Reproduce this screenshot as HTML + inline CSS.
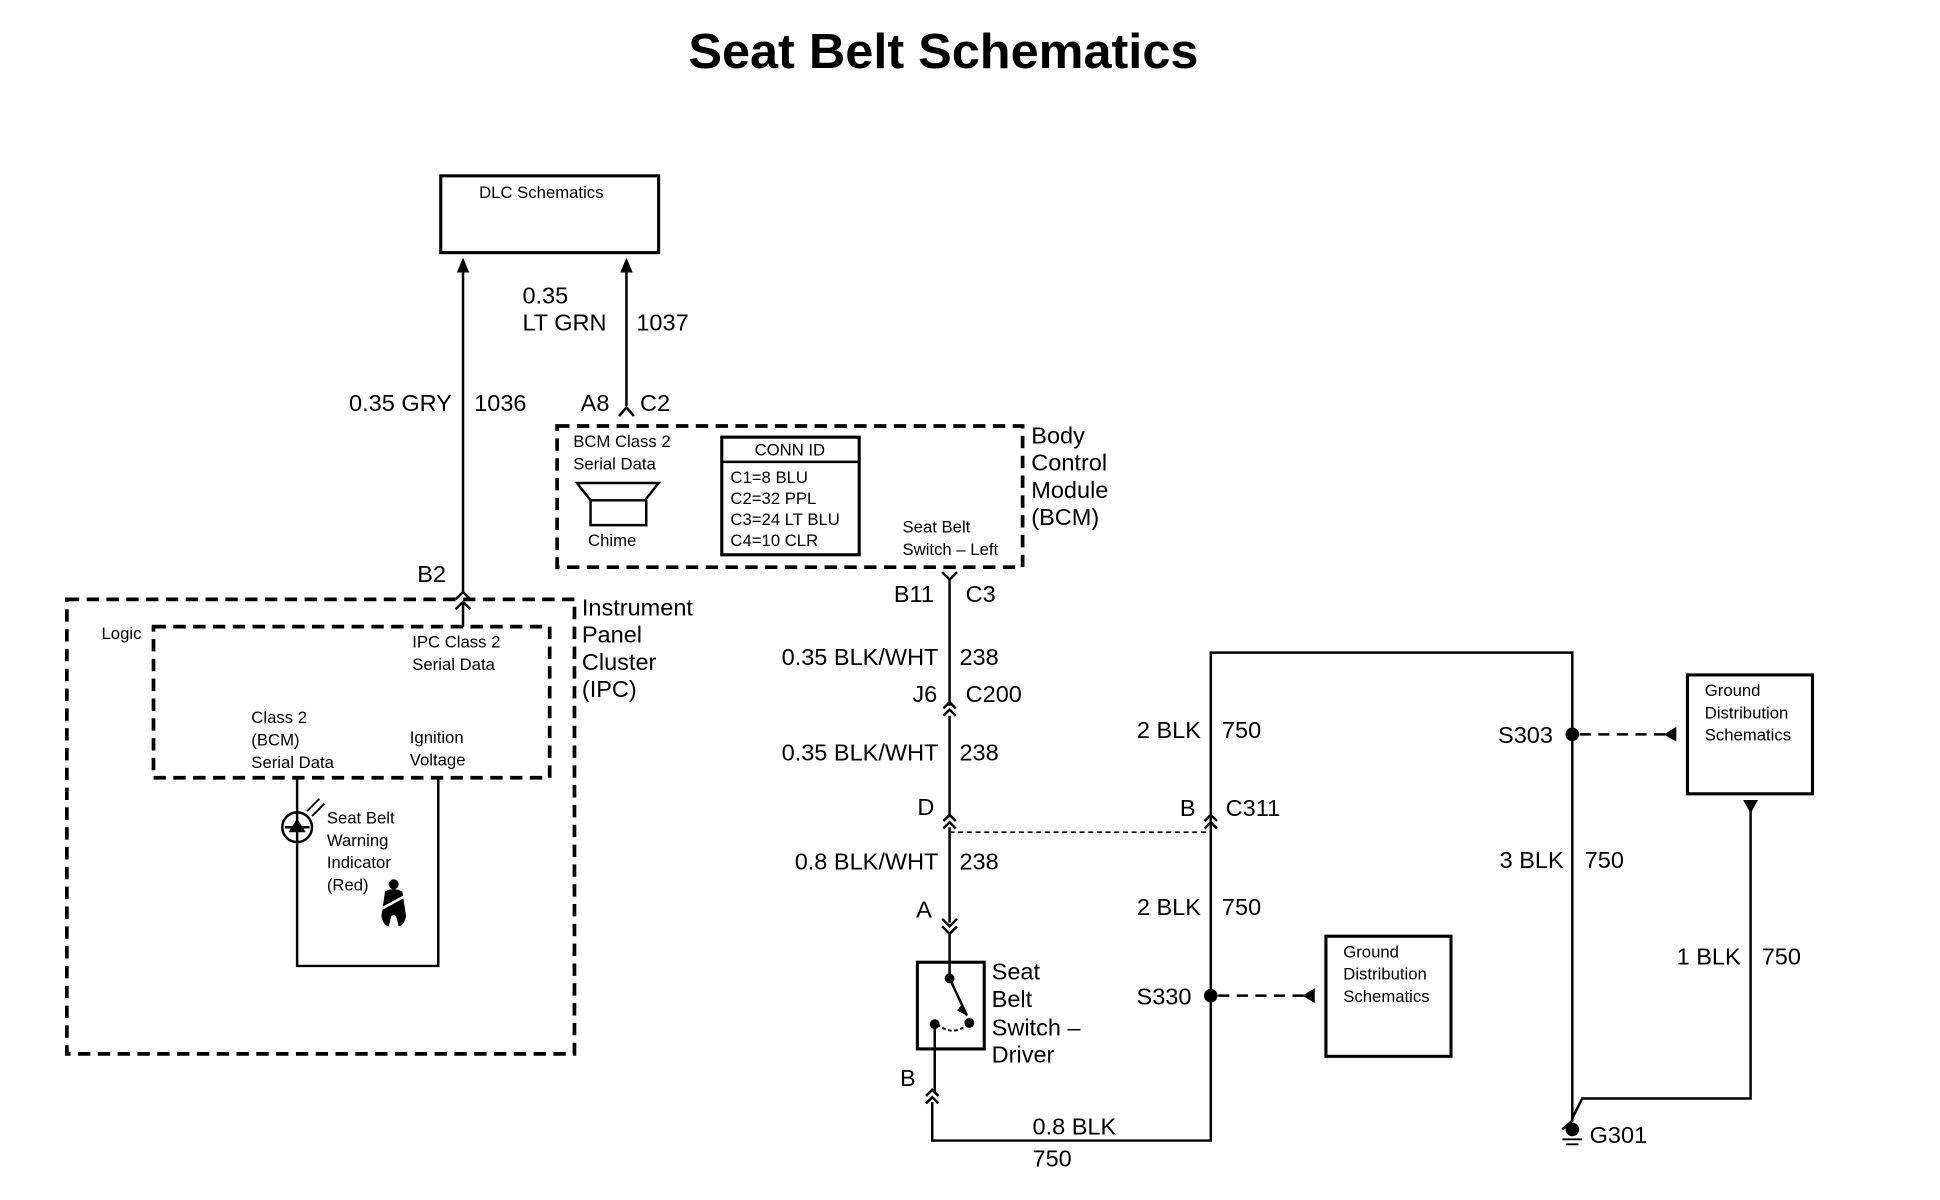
<!DOCTYPE html>
<html><head><meta charset="utf-8"><style>
html,body{margin:0;padding:0;background:#fff;}
svg{display:block}
text{font-family:"Liberation Sans",Arial,sans-serif;fill:#000}
.l{font-size:19px}
.s{font-size:13.5px}
.m{font-size:19px}
</style></head><body>
<svg width="1940" height="1200" viewBox="0 0 1567 969" preserveAspectRatio="none" xmlns="http://www.w3.org/2000/svg">
<defs>
<g id="dch" fill="none" stroke="#000" stroke-width="2"><path d="M-5,5 L0,0 L5,5 M-5,11 L0,6 L5,11"/></g>
</defs>
<text x="762" y="55" text-anchor="middle" font-size="40" font-weight="bold" textLength="412" lengthAdjust="spacingAndGlyphs">Seat Belt Schematics</text>

<g stroke="#000" fill="none">
<rect x="356" y="142" width="176" height="62" stroke-width="2.5"/>
<path d="M374,216 V478 M374,486 V506" stroke-width="2"/>
<path d="M506,216 V328" stroke-width="2"/>
<path d="M500,336 L506,329 L512,336" stroke-width="2"/>
<path d="M368,484 L374,478 L380,484 M368,492 L374,486 L380,492" stroke-width="2"/>
<rect x="450" y="344" width="376" height="114" stroke-width="3" stroke-dasharray="10,6"/>
<rect x="583" y="353" width="111" height="95" stroke-width="2.5"/>
<path d="M583,373 H694" stroke-width="2"/>
<path d="M466,390 H532 L521,404 H477 Z M477,404 V424 H522 V404" stroke-width="2"/>
<rect x="54" y="484" width="410" height="367" stroke-width="3" stroke-dasharray="10,6"/>
<rect x="124" y="506" width="320" height="122" stroke-width="3" stroke-dasharray="10,6"/>
<path d="M240,628 V780 H354 V628" stroke-width="2"/>
<circle cx="240" cy="668" r="12" stroke-width="2"/>
<path d="M230,668 H250" stroke-width="2"/>
<path d="M248,655 L258,645 M252,659 L262,649" stroke-width="1.5"/>
<path d="M761,462 L767,468 L773,462" stroke-width="2"/>
<path d="M767,468 V570 M767,578 V660 M767,668 V745" stroke-width="2"/>
<use href="#dch" x="767" y="567"/>
<use href="#dch" x="767" y="658"/>
<path d="M761,742 L767,748 L773,742 M761,748 L767,754 L773,748" stroke-width="2"/>
<path d="M767,754 V790 L781,820 M755,827 V882 M753,890 V921 H978 V527 H1270 V905 L1262,912" stroke-width="2"/>
<use href="#dch" x="753" y="880"/>
<path d="M767,672 H978" stroke-width="1.3" stroke-dasharray="4,3"/>
<use href="#dch" x="978" y="658"/>
<rect x="741" y="777" width="54" height="70" stroke-width="2.5"/>
<path d="M757,827 Q770,838 783,826" stroke-width="1.5" stroke-dasharray="3,2"/>
<rect x="1071" y="756" width="101" height="97" stroke-width="2.5"/>
<rect x="1363" y="545" width="101" height="96" stroke-width="2.5"/>
<path d="M984,804 H1058" stroke-width="2" stroke-dasharray="9,6"/>
<path d="M1276,593 H1350" stroke-width="2" stroke-dasharray="9,6"/>
<path d="M1414,652 V887 H1278 L1270,903" stroke-width="2"/>
<path d="M1262,920 H1278 M1265,924 H1275" stroke-width="1.5"/>
</g>
<g fill="#000">
<path d="M374,208 L369,220 L379,220 Z"/>
<path d="M506,208 L501,220 L511,220 Z"/>
<path d="M240,661 L233,672 H247 Z"/>
<circle cx="767" cy="790" r="4"/><circle cx="783" cy="826" r="4"/><circle cx="755" cy="827" r="4"/>
<path d="M781,820 L777,811 L773,816 Z"/>
<circle cx="978" cy="804" r="5.5"/><circle cx="1270" cy="593" r="5.5"/>
<circle cx="1270" cy="912" r="5.5"/>
<path d="M1062,798 L1052,804 L1062,810 Z"/>
<path d="M1354,587 L1344,593 L1354,599 Z"/>
<path d="M1408,646 L1420,646 L1414,657 Z"/>
<circle cx="318" cy="714" r="4"/>
<path d="M311,720 Q318,716 325,720 L328,740 Q326,748 322,748 L320,740 Q318,738 316,740 L314,748 Q310,748 308,740 Z"/>
</g>
<path d="M306,735 L330,722" stroke="#fff" stroke-width="2"/>

<text x="387" y="160" class="s">DLC Schematics</text>
<text x="365" y="332" class="l" text-anchor="end">0.35 GRY</text>
<text x="383" y="332" class="l">1036</text>
<text x="422" y="245" class="l">0.35</text>
<text x="422" y="267" class="l">LT GRN</text>
<text x="514" y="267" class="l">1037</text>
<text x="469" y="332" class="l">A8</text>
<text x="517" y="332" class="l">C2</text>
<text x="463" y="361" class="s">BCM Class 2</text>
<text x="463" y="379" class="s">Serial Data</text>
<text x="475" y="441" class="s">Chime</text>
<text x="638" y="368" class="s" text-anchor="middle">CONN ID</text>
<text x="590" y="390" class="s">C1=8 BLU</text>
<text x="590" y="407" class="s">C2=32 PPL</text>
<text x="590" y="424" class="s">C3=24 LT BLU</text>
<text x="590" y="441" class="s">C4=10 CLR</text>
<text x="729" y="430" class="s">Seat Belt</text>
<text x="729" y="448" class="s">Switch – Left</text>
<text x="833" y="358" class="m">Body</text>
<text x="833" y="380" class="m">Control</text>
<text x="833" y="402" class="m">Module</text>
<text x="833" y="424" class="m">(BCM)</text>
<text x="337" y="470" class="l">B2</text>
<text x="470" y="497" class="m">Instrument</text>
<text x="470" y="519" class="m">Panel</text>
<text x="470" y="541" class="m">Cluster</text>
<text x="470" y="563" class="m">(IPC)</text>
<text x="82" y="516" class="s">Logic</text>
<text x="333" y="523" class="s">IPC Class 2</text>
<text x="333" y="541" class="s">Serial Data</text>
<text x="203" y="584" class="s">Class 2</text>
<text x="203" y="602" class="s">(BCM)</text>
<text x="203" y="620" class="s">Serial Data</text>
<text x="331" y="600" class="s">Ignition</text>
<text x="331" y="618" class="s">Voltage</text>
<text x="264" y="665" class="s">Seat Belt</text>
<text x="264" y="683" class="s">Warning</text>
<text x="264" y="701" class="s">Indicator</text>
<text x="264" y="719" class="s">(Red)</text>
<text x="722" y="486" class="l">B11</text>
<text x="780" y="486" class="l">C3</text>
<text x="758" y="537" class="l" text-anchor="end">0.35 BLK/WHT</text>
<text x="775" y="537" class="l">238</text>
<text x="757" y="567" class="l" text-anchor="end">J6</text>
<text x="780" y="567" class="l">C200</text>
<text x="758" y="614" class="l" text-anchor="end">0.35 BLK/WHT</text>
<text x="775" y="614" class="l">238</text>
<text x="741" y="658" class="l">D</text>
<text x="758" y="702" class="l" text-anchor="end">0.8 BLK/WHT</text>
<text x="775" y="702" class="l">238</text>
<text x="740" y="741" class="l">A</text>
<text x="801" y="791" class="m">Seat</text>
<text x="801" y="813" class="m">Belt</text>
<text x="801" y="836" class="m">Switch –</text>
<text x="801" y="858" class="m">Driver</text>
<text x="727" y="877" class="l">B</text>
<text x="834" y="916" class="l">0.8 BLK</text>
<text x="834" y="942" class="l">750</text>
<text x="970" y="596" class="l" text-anchor="end">2 BLK</text>
<text x="987" y="596" class="l">750</text>
<text x="953" y="659" class="l">B</text>
<text x="990" y="659" class="l">C311</text>
<text x="970" y="739" class="l" text-anchor="end">2 BLK</text>
<text x="987" y="739" class="l">750</text>
<text x="918" y="811" class="l">S330</text>
<text x="1085" y="773" class="s">Ground</text>
<text x="1085" y="791" class="s">Distribution</text>
<text x="1085" y="809" class="s">Schematics</text>
<text x="1210" y="600" class="l">S303</text>
<text x="1377" y="562" class="s">Ground</text>
<text x="1377" y="580" class="s">Distribution</text>
<text x="1377" y="598" class="s">Schematics</text>
<text x="1263" y="701" class="l" text-anchor="end">3 BLK</text>
<text x="1280" y="701" class="l">750</text>
<text x="1406" y="779" class="l" text-anchor="end">1 BLK</text>
<text x="1423" y="779" class="l">750</text>
<text x="1284" y="923" class="l">G301</text>
</svg>
</body></html>
